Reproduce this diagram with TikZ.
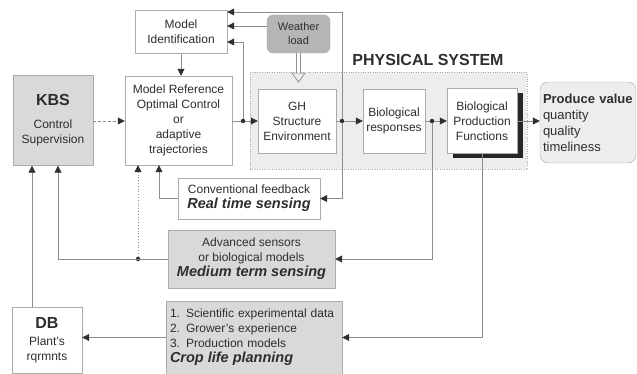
\documentclass[tikz,border=0pt]{standalone}
\usepackage{fontspec}
\setmainfont{Liberation Sans}
\usetikzlibrary{arrows.meta,shadows}

\definecolor{ink}{HTML}{2E2E2E}
\definecolor{wiregray}{HTML}{8E8E8E}
\definecolor{edgegray}{HTML}{ABABAB}
\definecolor{tipgray}{HTML}{303030}
\definecolor{boxgray}{HTML}{D9D9D9}
\definecolor{weathergray}{HTML}{B5B5B5}
\definecolor{zonegray}{HTML}{EDEDED}

\tikzset{
  block/.style={draw=edgegray, fill=white, text=ink, align=center, inner sep=2pt,
    font=\fontsize{12}{15}\selectfont},
  greyblock/.style={block, fill=boxgray},
  wire/.style={wiregray, line width=0.8pt},
  feed/.style={wire, -{Triangle[length=7pt, width=7pt, color=tipgray]}},
  hollow/.style={draw=wiregray, line width=0.7pt, double=white, double distance=3.5pt,
    -{Triangle[open, length=10pt, width=14pt]}, shorten >=6pt},
  dot/.style={circle, fill=tipgray, inner sep=0pt, minimum size=4.5pt},
}
\newcommand{\headtxt}[1]{{\fontsize{16}{18}\selectfont\bfseries #1}}
\newcommand{\senselabel}[1]{{\fontsize{14.5}{17}\selectfont\bfseries\itshape #1}}

\begin{document}
\begin{tikzpicture}[x=1pt, y=-1pt]
  \useasboundingbox (0,0) rectangle (637,374);

  % Draw the physical system zone
  \node[draw=edgegray, dotted, fill=zonegray, minimum width=277pt, minimum height=97pt,
    inner sep=0pt] (physys) at (388.5,121) {};
  \node[font=\fontsize{16}{18}\selectfont\bfseries, text=ink] (physlabel) at (428,60) {PHYSICAL SYSTEM};

  % Draw the top row
  \node[block, minimum width=92pt, minimum height=43pt] (modelid) at (181,32) {Model\\Identification};
  \node[block, fill=weathergray, rounded corners=6pt, minimum width=63pt, minimum height=38pt,
    font=\fontsize{11}{14}\selectfont] (weather) at (298.5,34) {Weather\\load};

  % Draw the control chain
  \node[greyblock, minimum width=80pt, minimum height=90pt] (kbs) at (53,120.5) {\headtxt{KBS}\\[8pt]Control\\Supervision};
  \node[block, minimum width=107pt, minimum height=89pt] (modelref) at (178.5,120.5) {Model Reference\\Optimal Control\\or\\adaptive\\trajectories};
  \node[block, minimum width=78pt, minimum height=64pt] (gh) at (297,121) {GH\\Structure\\Environment};
  \node[block, minimum width=62pt, minimum height=64pt] (bioresp) at (394,121) {Biological\\responses};
  \node[block, minimum width=70pt, minimum height=65pt,
    general shadow={fill=black!85, shadow xshift=6pt, shadow yshift=-5pt}] (bpf) at (482,121) {Biological\\Production\\Functions};
  \node[block, fill=zonegray, rounded corners=8pt, align=left, text width=90pt, inner xsep=3pt,
    minimum height=81pt, font=\fontsize{13}{16}\selectfont] (produce) at (588,122.5) {\textbf{Produce value}\\quantity\\quality\\timeliness};

  % Draw the sensing and planning boxes
  \node[block, minimum width=142pt, minimum height=41pt] (realtime) at (249,198.5) {Conventional feedback\\\senselabel{Real time sensing}};
  \node[greyblock, minimum width=167pt, minimum height=58pt] (medium) at (251.5,259) {Advanced sensors\\or biological models\\\senselabel{Medium term sensing}};
  \node[greyblock, align=left, text width=168pt, inner xsep=4pt, minimum height=73pt] (crop) at (254,337.5) {1. Scientific experimental data\\2. Grower's experience\\3. Production models\\\senselabel{Crop life planning}};
  \node[block, minimum width=70pt, minimum height=66pt] (db) at (47,340) {\headtxt{DB}\\[2pt]Plant's\\rqrmnts};

  % Junction dots
  \node[dot] (j1) at (243,121) {};
  \node[dot] (j2) at (342,121) {};
  \node[dot] (j3) at (432,121) {};
  \node[dot] (j4) at (138,259) {};
  \coordinate (wxin) at ([yshift=6pt]modelid.east);

  % Draw the forward path
  \draw[feed, densely dashed] (kbs.east |- j1) -- (modelref.west |- j1);
  \draw[feed] (modelid) -- (modelid |- modelref.north);
  \draw[wire] (modelref.east |- j1) -- (j1);
  \draw[feed] (j1) -- (gh.west |- j1);
  \draw[wire] (gh.east |- j2) -- (j2);
  \draw[feed] (j2) -- (bioresp.west |- j2);
  \draw[wire] (bioresp.east |- j3) -- (j3);
  \draw[feed] (j3) -- (bpf.west |- j3);
  \draw[feed] (bpf.east |- j3) -- (produce.west |- j3);
  \draw[hollow] (weather.south) -- (weather.south |- gh.north);

  % Draw the identification loops
  \draw[feed] (j1) |- ([yshift=-10pt]modelid.east);
  \draw[feed] (j2) |- ([yshift=20pt]modelid.east);
  \draw[feed] (weather.west |- wxin) -- (wxin);

  % Draw the feedback loops
  \draw[feed] (j2) |- (realtime.east);
  \draw[feed] (j3) |- (medium.east);
  \draw[feed] (bpf.south) |- (crop.east);
  \draw[feed] (realtime.west) -| ([xshift=-19.5pt]modelref.south);
  \draw[feed] (medium.west) -| ([xshift=5pt]kbs.south);
  \draw[feed, dotted] (j4) -- (j4 |- modelref.south);
  \draw[feed] (crop.west) -- (crop.west -| db.east);
  \draw[feed] ([xshift=-15pt]db.north) -- ([xshift=-15pt]db.north |- kbs.south);

\end{tikzpicture}
\end{document}
